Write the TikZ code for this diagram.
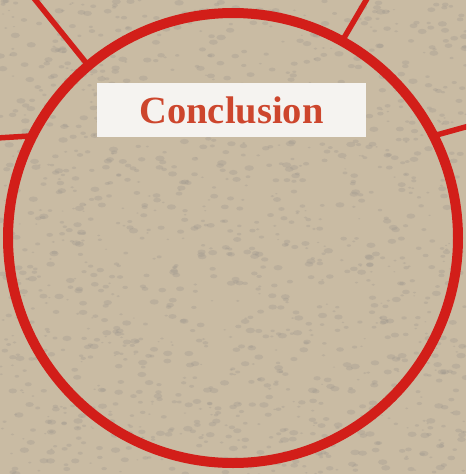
\documentclass[tikz,border=0pt]{standalone}
\usepackage{fontspec}
\setmainfont{Liberation Serif}
\usetikzlibrary{positioning}
\definecolor{PaperBeige}{HTML}{C9BBA3}
\definecolor{PaperSpeck}{HTML}{9C958D}
\definecolor{RingRed}{HTML}{D21E19}
\definecolor{TitleRed}{HTML}{CD462D}
\definecolor{TitleWhite}{HTML}{F5F3F0}
\tikzset{
    % ring and spokes
    ring/.style={
        circle,
        draw=RingRed,
        line width=10pt,
        minimum size=450pt,
        inner sep=0pt,
        outer sep=0pt
    },
    spoke/.style={
        draw=RingRed,
        line width=5.5pt
    },
    % title box
    titlebox/.style={
        rectangle,
        fill=TitleWhite,
        minimum width=269pt,
        minimum height=54pt,
        inner sep=0pt,
        text=TitleRed,
        font=\fontsize{38.5}{40}\selectfont\bfseries
    },
    speck/.style={
        fill=PaperSpeck,
        opacity=0.3
    }
}
\begin{document}
\begin{tikzpicture}[x=1pt, y=-1pt]
    \useasboundingbox (0,0) rectangle (466,474);
    \clip (0,0) rectangle (466,474);
    \fill[PaperBeige] (0,0) rectangle (466,474);

    % paper texture
    \pgfmathsetseed{17}
    \foreach \k in {1,...,1500}{
        \pgfmathsetmacro{\px}{466*rnd}
        \pgfmathsetmacro{\py}{474*rnd}
        \pgfmathsetmacro{\pr}{0.6+2.2*rnd}
        \fill[speck] (\px,\py) ellipse [x radius=1.7*\pr pt, y radius=\pr pt];
    }

    \node[ring] (ring) at (233,238) {};

    \coordinate (tl) at (33,-3);
    \coordinate (tr) at (368,-3);
    \coordinate (lt) at (-3,138);
    \coordinate (rt) at (469,126);

    \draw[spoke] (ring.130) -- (tl);
    \draw[spoke] (ring.61) -- (tr);
    \draw[spoke] (ring.153) -- (lt);
    \draw[spoke] (ring.27) -- (rt);

    \node[titlebox] (title) at (231.5,110) {Conclusion};
\end{tikzpicture}
\end{document}
